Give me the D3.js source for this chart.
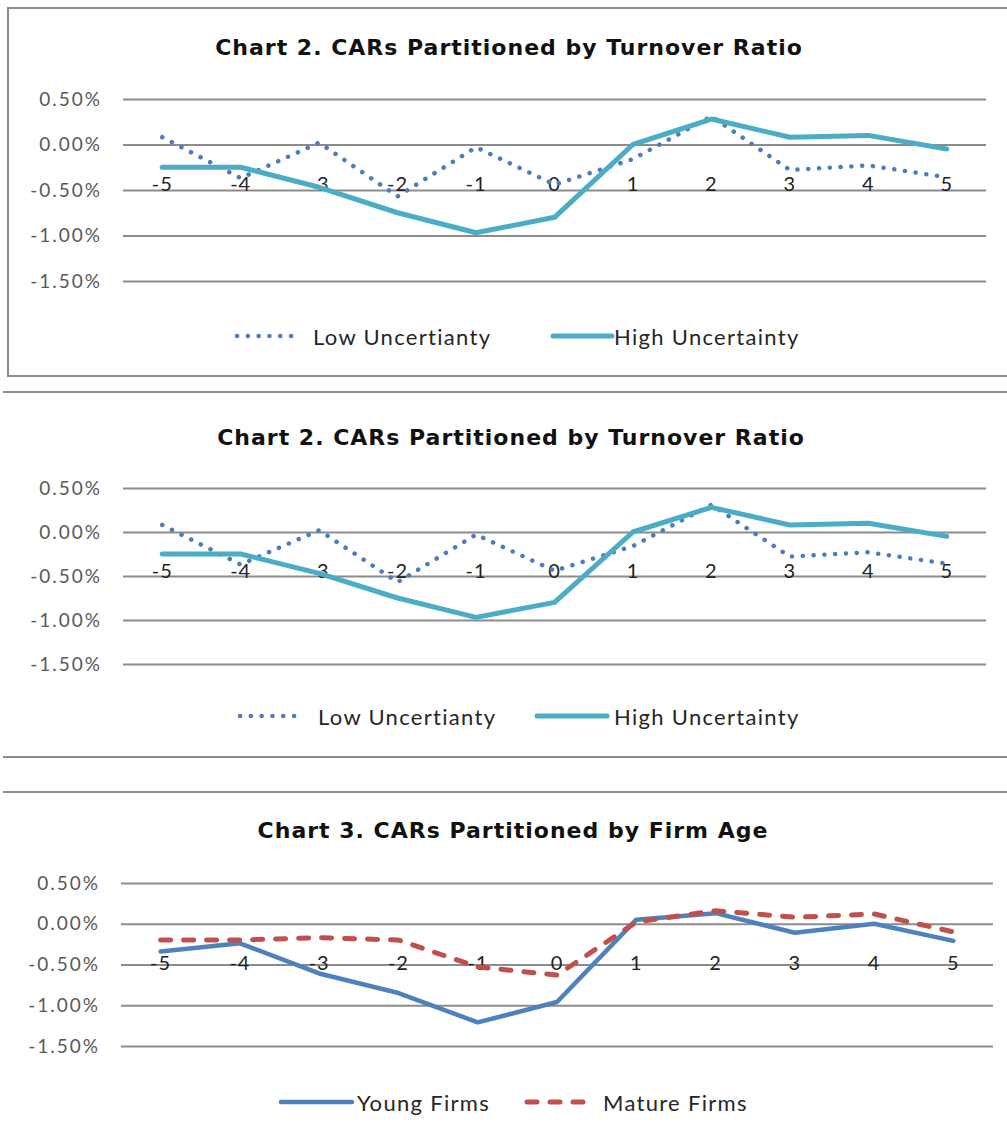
<!DOCTYPE html>
<html>
<head>
<meta charset="utf-8">
<script src="https://cdn.jsdelivr.net/npm/d3@7"></script>
<style>
  body { margin:0; background:#fff; }
  svg { display:block; font-family: Lato, "Open Sans", sans-serif; }
</style>
</head>
<body>
<svg id="page" width="1007" height="1135"></svg>
<script>
// event window (days)
var periods = [-5,-4,-3,-2,-1,0,1,2,3,4,5];
var yTicks = [0.005, 0, -0.005, -0.01, -0.015];

// turnover ratio split (chart shown twice)
var lowUnc  = [0.0008,-0.0037,0.0002,-0.0057,-0.0003,-0.0044,-0.0016,0.0031,-0.0028,-0.0023,-0.0036];
var highUnc = [-0.0025,-0.0025,-0.0047,-0.0075,-0.0097,-0.0080,0.0000,0.0028,0.0008,0.0010,-0.0005];

// firm age split
var youngFirms  = [-0.0034,-0.0024,-0.0061,-0.0085,-0.0121,-0.0096,0.0005,0.0013,-0.0011,0.0000,-0.0021];
var matureFirms = [-0.0020,-0.0020,-0.0017,-0.0020,-0.0053,-0.0063,0.0002,0.0016,0.0008,0.0012,-0.0010];

var pct = d3.formatLocale({decimal:".",thousands:",",grouping:[3],currency:["$",""],minus:"-"}).format(".2%");

var svg = d3.select("#page");

var styles = {
   low:   {color:"#4a7ebb", width:4.5, dash:"0.1,10.7", cap:"round"},
   high:  {color:"#4bacc6", width:5,   dash:null, cap:"round"},
   young: {color:"#4f81bd", width:4.5, dash:null, cap:"round"},
   mature:{color:"#c0504d", width:5,   dash:"10,13", cap:"round"}
};

var charts = [
   {title:"Chart 2. CARs Partitioned by Turnover Ratio", titleX:509, titleY:47, top:99, bottom:281, x0:123, x1:986,
    series:[{name:"Low Uncertianty", vals:lowUnc, st:styles.low}, {name:"High Uncertainty", vals:highUnc, st:styles.high}],
    legendY:336, legendPos:[[237,297,313],[553,612,614]]},
   {title:"Chart 2. CARs Partitioned by Turnover Ratio", titleX:511, titleY:437, top:488, bottom:664, x0:123, x1:986,
    series:[{name:"Low Uncertianty", vals:lowUnc, st:styles.low}, {name:"High Uncertainty", vals:highUnc, st:styles.high}],
    legendY:716, legendPos:[[240,302,318],[537,607,614]]},
   {title:"Chart 3. CARs Partitioned by Firm Age", titleX:513, titleY:830, top:883, bottom:1046, x0:121, x1:993,
    series:[{name:"Young Firms", vals:youngFirms, st:styles.young}, {name:"Mature Firms", vals:matureFirms, st:styles.mature}],
    legendY:1102, legendPos:[[281,352,357],[527,590,603]]}
];

// frames
svg.append("rect").attr("x",8).attr("y",8).attr("width",1010).attr("height",368)
   .attr("fill","none").attr("stroke","#8c8c8c").attr("stroke-width",2);
[392,757,792].forEach(function(y){
   svg.append("line").attr("x1",3).attr("x2",1010).attr("y1",y).attr("y2",y)
      .attr("stroke","#8c8c8c").attr("stroke-width",2);
});

function drawChart(c){
   var g = svg.append("g");
   var x = d3.scaleBand().domain(periods).range([c.x0,c.x1]).padding(0);
   var y = d3.scaleLinear().domain([0.005,-0.015]).range([c.top,c.bottom]);
   var cx = function(d){ return x(d) + x.bandwidth()/2; };

   g.append("text").attr("x",c.titleX).attr("y",c.titleY)
      .attr("text-anchor","middle").attr("dominant-baseline","central")
      .attr("font-family","'DejaVu Sans', sans-serif")
      .attr("font-weight","bold").attr("font-size",22).attr("letter-spacing",1).attr("fill","#111")
      .text(c.title);

   var ya = g.append("g").attr("transform","translate("+c.x0+",0)")
      .call(d3.axisLeft(y).tickValues(yTicks).tickFormat(pct).tickSize(-(c.x1-c.x0)).tickPadding(21));
   ya.select(".domain").remove();
   ya.selectAll(".tick line").attr("stroke","#8c8c8c").attr("stroke-width",2);
   ya.selectAll(".tick text").attr("font-size",19).attr("letter-spacing",2).attr("fill","#595959")
      .attr("font-family","Lato, sans-serif");

   var xa = g.append("g").attr("transform","translate(0,"+y(0)+")")
      .call(d3.axisBottom(x).tickSize(0));
   xa.select(".domain").remove();
   xa.selectAll(".tick text").attr("y",38).attr("dy",null).attr("dominant-baseline","central")
      .attr("font-size",20).attr("letter-spacing",1).attr("fill","#222").attr("font-family","Lato, sans-serif");

   var line = d3.line().x(function(d,i){ return cx(periods[i]); }).y(function(d){ return y(d); });
   c.series.forEach(function(s){
      g.append("path").datum(s.vals).attr("d",line)
         .attr("fill","none").attr("stroke",s.st.color).attr("stroke-width",s.st.width)
         .attr("stroke-linecap",s.st.cap).attr("stroke-linejoin","round")
         .attr("stroke-dasharray",s.st.dash);
   });

   // legend
   c.series.forEach(function(s,i){
      var p = c.legendPos[i];
      g.append("line").attr("x1",p[0]).attr("x2",p[1]).attr("y1",c.legendY).attr("y2",c.legendY)
         .attr("stroke",s.st.color).attr("stroke-width",s.st.width)
         .attr("stroke-linecap",s.st.cap).attr("stroke-dasharray",s.st.dash);
      g.append("text").attr("x",p[2]).attr("y",c.legendY).attr("dominant-baseline","central")
         .attr("font-size",22).attr("letter-spacing",1.3).attr("fill","#262626").text(s.name);
   });
}

charts.forEach(drawChart);
</script>
</body>
</html>
